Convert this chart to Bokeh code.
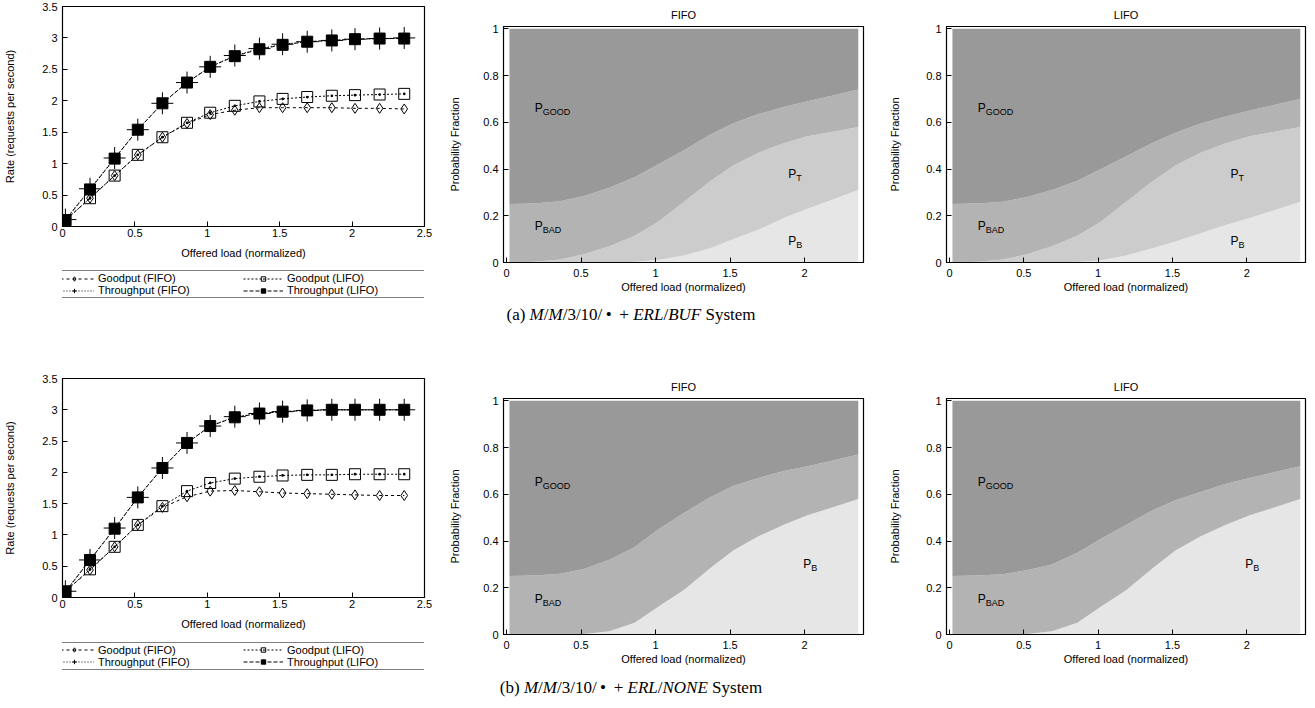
from bokeh.plotting import figure
from bokeh.models import (FixedTicker, CustomJSTickFormatter, Legend, LegendItem,
                          Range1d, ColumnDataSource, Div)
from bokeh.layouts import column, row
from bokeh.embed import file_html
from bokeh.resources import INLINE
from bokeh.core.properties import value

FONT = "Liberation Sans"

# ---------------- data ----------------
load = [0.02, 0.19, 0.36, 0.52, 0.69, 0.86, 1.02, 1.19, 1.36, 1.52, 1.69, 1.86, 2.02, 2.19, 2.36]

# (a) M/M/3/10/. + ERL/BUF  -- rates
a_goodput_fifo = [0.10, 0.45, 0.81, 1.14, 1.42, 1.64, 1.78, 1.85, 1.89, 1.89, 1.89, 1.89, 1.88, 1.88, 1.87]
a_goodput_lifo = [0.10, 0.45, 0.81, 1.14, 1.42, 1.65, 1.81, 1.92, 1.99, 2.03, 2.06, 2.08, 2.09, 2.10, 2.11]
a_throughput_fifo = [0.11, 0.60, 1.09, 1.54, 1.96, 2.29, 2.54, 2.72, 2.83, 2.90, 2.94, 2.96, 2.98, 2.99, 3.00]
a_throughput_lifo = [0.10, 0.59, 1.08, 1.54, 1.96, 2.29, 2.54, 2.71, 2.82, 2.89, 2.94, 2.96, 2.98, 2.99, 2.99]

# (b) M/M/3/10/. + ERL/NONE -- rates
b_goodput_fifo = [0.10, 0.44, 0.81, 1.16, 1.44, 1.61, 1.70, 1.71, 1.69, 1.67, 1.66, 1.65, 1.64, 1.63, 1.63]
b_goodput_lifo = [0.10, 0.45, 0.81, 1.16, 1.46, 1.70, 1.83, 1.90, 1.93, 1.95, 1.96, 1.96, 1.97, 1.97, 1.97]
b_throughput_fifo = [0.10, 0.60, 1.11, 1.60, 2.07, 2.47, 2.74, 2.89, 2.94, 2.97, 2.99, 3.00, 3.00, 3.00, 3.00]
b_throughput_lifo = [0.09, 0.60, 1.10, 1.60, 2.07, 2.47, 2.74, 2.88, 2.94, 2.97, 2.99, 3.00, 3.00, 3.00, 3.00]

# probability fractions (stacked bottom -> top: P_B, P_T, P_BAD, P_GOOD)
a_fifo_pb    = [0, 0, 0, 0, 0, 0.002, 0.012, 0.03, 0.06, 0.10, 0.14, 0.19, 0.23, 0.27, 0.31]
a_fifo_pt    = [0, 0.003, 0.013, 0.035, 0.07, 0.113, 0.163, 0.23, 0.285, 0.315, 0.33, 0.32, 0.31, 0.29, 0.27]
a_fifo_pbad  = [0.25, 0.25, 0.249, 0.25, 0.25, 0.25, 0.245, 0.22, 0.20, 0.18, 0.165, 0.155, 0.15, 0.155, 0.16]
a_fifo_pgood = [0.75, 0.747, 0.738, 0.715, 0.68, 0.635, 0.58, 0.52, 0.455, 0.405, 0.365, 0.335, 0.31, 0.285, 0.26]

a_lifo_pb    = [0, 0, 0, 0, 0, 0.002, 0.01, 0.03, 0.06, 0.09, 0.125, 0.16, 0.19, 0.225, 0.26]
a_lifo_pt    = [0, 0.003, 0.013, 0.035, 0.07, 0.113, 0.165, 0.23, 0.285, 0.325, 0.345, 0.35, 0.35, 0.335, 0.32]
a_lifo_pbad  = [0.25, 0.249, 0.247, 0.245, 0.24, 0.235, 0.225, 0.195, 0.165, 0.14, 0.125, 0.115, 0.11, 0.115, 0.12]
a_lifo_pgood = [0.75, 0.748, 0.74, 0.72, 0.69, 0.65, 0.60, 0.545, 0.49, 0.445, 0.405, 0.375, 0.35, 0.325, 0.30]

b_fifo_pb    = [0, 0, 0, 0.002, 0.014, 0.05, 0.12, 0.19, 0.28, 0.36, 0.42, 0.47, 0.51, 0.545, 0.58]
b_fifo_pt    = [0] * 15
b_fifo_pbad  = [0.25, 0.252, 0.26, 0.278, 0.306, 0.325, 0.33, 0.33, 0.305, 0.275, 0.25, 0.23, 0.21, 0.20, 0.19]
b_fifo_pgood = [0.75, 0.748, 0.74, 0.72, 0.68, 0.625, 0.55, 0.48, 0.415, 0.365, 0.33, 0.30, 0.28, 0.255, 0.23]

b_lifo_pb    = [0, 0, 0, 0.002, 0.014, 0.05, 0.12, 0.19, 0.28, 0.36, 0.42, 0.47, 0.51, 0.545, 0.58]
b_lifo_pt    = [0] * 15
b_lifo_pbad  = [0.25, 0.252, 0.258, 0.273, 0.286, 0.30, 0.29, 0.28, 0.25, 0.215, 0.19, 0.175, 0.16, 0.15, 0.14]
b_lifo_pgood = [0.75, 0.748, 0.742, 0.725, 0.70, 0.65, 0.59, 0.53, 0.47, 0.425, 0.39, 0.355, 0.33, 0.305, 0.28]

region_colors = ["#e6e6e6", "#cccccc", "#b3b3b3", "#999999"]

# region labels: (x, y, subscript)
a_fifo_labels = ([0.19, 0.19, 1.89, 1.89], [0.66, 0.157, 0.38, 0.09], ["GOOD", "BAD", "T", "B"])
a_lifo_labels = ([0.19, 0.19, 1.89, 1.89], [0.66, 0.157, 0.38, 0.09], ["GOOD", "BAD", "T", "B"])
b_fifo_labels = ([0.19, 0.19, 1.99], [0.653, 0.152, 0.30], ["GOOD", "BAD", "B"])
b_lifo_labels = ([0.19, 0.19, 1.99], [0.653, 0.152, 0.30], ["GOOD", "BAD", "B"])

rate_xticks = [0, 0.5, 1, 1.5, 2, 2.5]
rate_yticks = [0, 0.5, 1, 1.5, 2, 2.5, 3, 3.5]
frac_xticks = [0, 0.5, 1, 1.5, 2]
frac_yticks = [0, 0.2, 0.4, 0.6, 0.8, 1]

FMT = "return String(tick)"


def style(p, xticks, yticks, xlabel, ylabel, xl_standoff, xlab_standoff, ylab_standoff):
    p.grid.visible = False
    p.outline_line_color = "black"
    p.outline_line_width = 1.2
    for ax, ticks in ((p.xaxis[0], xticks), (p.yaxis[0], yticks)):
        ax.ticker = FixedTicker(ticks=ticks)
        ax.formatter = CustomJSTickFormatter(code=FMT)
        ax.major_tick_in = 5
        ax.major_tick_out = 0
        ax.minor_tick_line_color = None
        ax.major_tick_line_color = "black"
        ax.axis_line_color = "black"
        ax.major_label_text_font = FONT
        ax.major_label_text_font_size = "11px"
        ax.major_label_text_color = "black"
        ax.axis_label_text_font = FONT
        ax.axis_label_text_font_size = "11px"
        ax.axis_label_text_font_style = "normal"
        ax.axis_label_text_color = "black"
    p.xaxis[0].axis_label = xlabel
    p.yaxis[0].axis_label = ylabel
    p.xaxis[0].major_label_standoff = xl_standoff
    p.xaxis[0].axis_label_standoff = xlab_standoff
    p.yaxis[0].major_label_standoff = 5
    p.yaxis[0].axis_label_standoff = ylab_standoff


def add_series(p, src):
    l1 = p.line("load", "gf", source=src, line_color="black", line_width=1, line_dash="3 3")
    s1 = p.scatter("load", "gf", source=src, marker="diamond", size=10, fill_color=None, line_color="black")
    l3 = p.line("load", "gl", source=src, line_color="black", line_width=1, line_dash="2 2")
    s3 = p.scatter("load", "gl", source=src, marker="square_dot", size=11, fill_color=None, line_color="black")
    l2 = p.line("load", "tf", source=src, line_color="black", line_width=1, line_dash="1 2")
    s2 = p.scatter("load", "tf", source=src, marker="cross", size=22, line_color="black", line_width=1)
    l4 = p.line("load", "tl", source=src, line_color="black", line_width=1, line_dash="4 2")
    s4 = p.scatter("load", "tl", source=src, marker="square", size=11, fill_color="black", line_color="black")
    return (l1, s1), (l2, s2), (l3, s3), (l4, s4)


def rate_block(gf, gl, tf, tl, height, leg_height):
    src = ColumnDataSource(dict(load=load, gf=gf, gl=gl, tf=tf, tl=tl))
    p = figure(width=440, height=height, x_range=Range1d(0, 2.5), y_range=Range1d(0, 3.5),
               output_backend="svg", toolbar_location=None,
               min_border_left=62, min_border_right=16, min_border_top=6, min_border_bottom=38)
    style(p, rate_xticks, rate_yticks, "Offered load (normalized)", "Rate (requests per second)", 2, 7, 23)
    add_series(p, src)
    # legend panel (series drawn off-view so only the legend shows)
    lp = figure(width=440, height=leg_height, x_range=Range1d(100, 101), y_range=Range1d(100, 101),
                output_backend="svg", toolbar_location=None,
                min_border_left=0, min_border_right=0, min_border_top=0, min_border_bottom=0)
    lp.axis.visible = False
    lp.grid.visible = False
    lp.outline_line_color = None
    g = add_series(lp, src)
    legend = Legend(items=[
        LegendItem(label="Goodput (FIFO)", renderers=list(g[0])),
        LegendItem(label="Throughput (FIFO)", renderers=list(g[1])),
        LegendItem(label="Goodput (LIFO)", renderers=list(g[2])),
        LegendItem(label="Throughput (LIFO)", renderers=list(g[3])),
    ], ncols=2, location="center", border_line_color="black", border_line_width=1.3,
        padding=1, spacing=0, margin=0, label_text_font=FONT, label_text_font_size="11px",
        label_text_color="black", glyph_width=40, glyph_height=11, label_height=11,
        label_width=145, label_standoff=4, background_fill_alpha=1)
    lp.add_layout(legend)
    return column(p, lp, spacing=0)


def frac_fig(title, pb, pt, pbad, pgood, labels, width, left, right, height, ylab_standoff):
    p = figure(width=width, height=height, x_range=Range1d(-0.02, 2.395), y_range=Range1d(0, 1.01),
               output_backend="svg", toolbar_location=None, title=title,
               min_border_left=left, min_border_right=right, min_border_top=26,
               min_border_bottom=height - 26 - 236)
    p.title.align = "center"
    p.title.text_font = FONT
    p.title.text_font_size = "11px"
    p.title.text_font_style = "normal"
    p.title.text_color = "black"
    p.title.standoff = 11
    src = ColumnDataSource(dict(load=load, pb=pb, pt=pt, pbad=pbad, pgood=pgood))
    p.varea_stack(stackers=["pb", "pt", "pbad", "pgood"], x="load", color=region_colors, source=src)
    style(p, frac_xticks, frac_yticks, "Offered load (normalized)", "Probability Fraction", 6, 1, ylab_standoff)
    lx, ly, subs = labels
    lsrc = ColumnDataSource(dict(x=lx, y=ly, main=["P"] * len(lx), sub=subs))
    p.text("x", "y", text="main", source=lsrc, text_font=value(FONT), text_font_size="12px",
           text_baseline="middle", text_align="left", text_color="black")
    p.text("x", "y", text="sub", source=lsrc, text_font=value(FONT), text_font_size="9px",
           text_baseline="middle", text_align="left", text_color="black", x_offset=8, y_offset=4)
    return p


a1 = rate_block(a_goodput_fifo, a_goodput_lifo, a_throughput_fifo, a_throughput_lifo, 264, 40)
a2 = frac_fig("FIFO", a_fifo_pb, a_fifo_pt, a_fifo_pbad, a_fifo_pgood, a_fifo_labels, 440, 63, 17, 304, 19)
a3 = frac_fig("LIFO", a_lifo_pb, a_lifo_pt, a_lifo_pbad, a_lifo_pgood, a_lifo_labels, 427, 66, 2, 304, 22)

b1 = rate_block(b_goodput_fifo, b_goodput_lifo, b_throughput_fifo, b_throughput_lifo, 263, 41)
b2 = frac_fig("FIFO", b_fifo_pb, b_fifo_pt, b_fifo_pbad, b_fifo_pgood, b_fifo_labels, 440, 63, 17, 304, 19)
b3 = frac_fig("LIFO", b_lifo_pb, b_lifo_pt, b_lifo_pbad, b_lifo_pgood, b_lifo_labels, 427, 66, 2, 304, 22)

CAP = ("<div style=\"font-family:'Liberation Serif';font-size:17px;color:black;text-align:center;"
       "line-height:{lh}px;width:1262px;margin:0;padding:0\">{txt}</div>")
cap_a = Div(text=CAP.format(lh=22, txt="(a) <i>M</i>/<i>M</i>/3/10/&thinsp;&#8226;&thinsp; + <i>ERL</i>/<i>BUF</i> System"),
            width=1262, height=68, margin=0)
cap_b = Div(text=CAP.format(lh=24, txt="(b) <i>M</i>/<i>M</i>/3/10/&thinsp;&#8226;&thinsp; + <i>ERL</i>/<i>NONE</i> System"),
            width=1262, height=24, margin=0)

layout = column(row(a1, a2, a3, spacing=0), cap_a, row(b1, b2, b3, spacing=0), cap_b, spacing=0)

open("out.html", "w").write(file_html(layout, INLINE))
